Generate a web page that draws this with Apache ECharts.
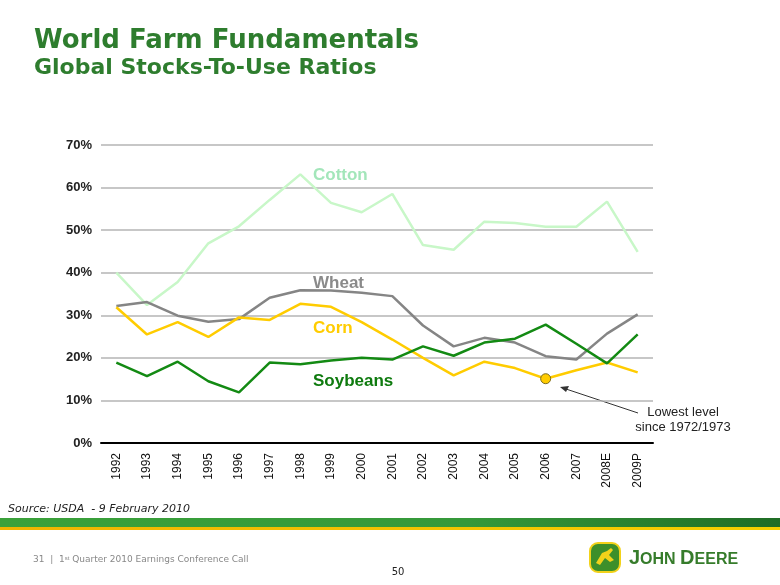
<!DOCTYPE html>
<html>
<head>
<meta charset="utf-8">
<script src="https://cdn.jsdelivr.net/npm/echarts@6/dist/echarts.min.js"></script>
<style>html,body{margin:0;padding:0;background:#fff;}#c{width:780px;height:585px;}</style>
</head>
<body>
<div id="c"></div>
<script>
const years = ['1992','1993','1994','1995','1996','1997','1998','1999','2000','2001','2002','2003','2004','2005','2006','2007','2008E','2009P'];
const cotton   = [40.0,32.4,37.8,46.9,50.9,57.1,63.1,56.4,54.2,58.5,46.5,45.4,52.0,51.7,50.8,50.8,56.7,44.9];
const wheat    = [32.2,33.1,29.9,28.5,29.1,34.1,35.9,35.8,35.3,34.5,27.6,22.7,24.7,23.6,20.4,19.6,25.7,30.2];
const corn     = [31.9,25.5,28.4,24.9,29.5,28.9,32.7,32.0,28.4,24.3,20.0,15.9,19.1,17.6,15.1,17.1,18.9,16.6];
const soybeans = [18.9,15.7,19.1,14.5,11.9,18.9,18.5,19.4,20.0,19.6,22.7,20.5,23.6,24.5,27.8,23.3,18.7,25.5];
const lowestIndex = 14; // 2006 corn

const chart = echarts.init(document.getElementById('c'));
const cornData = corn.map((v, i) => i === lowestIndex ? {
  value: v, symbol: 'circle', symbolSize: 10,
  itemStyle: { color: '#ffcc00', borderColor: '#7a6a20', borderWidth: 1 }
} : v);

function line(name, data, color) {
  return { name, type: 'line', data, symbol: 'none', showSymbol: true,
    lineStyle: { color, width: 2.5 }, itemStyle: { color }, animation: false, z: 3 };
}

const title = '#2e7d2e';
const lbl = (text, y, color) => ({ type: 'text', x: 313, y, style: { text, font: 'bold 17px "Liberation Sans", Arial', fill: color, align: 'left', verticalAlign: 'middle' } });
chart.setOption({
  animation: false,
  grid: { left: 101, right: 127, top: 145, bottom: 142 },
  xAxis: {
    type: 'category', data: years, boundaryGap: true,
    axisLine: { lineStyle: { color: '#000', width: 2 } },
    axisTick: { show: false },
    axisLabel: { rotate: 90, margin: 10, fontFamily: 'Liberation Sans, Arial', fontSize: 12, color: '#111', interval: 0 }
  },
  yAxis: {
    type: 'value', min: 0, max: 70, interval: 10,
    axisLine: { show: false }, axisTick: { show: false },
    axisLabel: { formatter: '{value}%', fontFamily: 'Liberation Sans, Arial', fontSize: 13, fontWeight: 'bold', color: '#222', margin: 9 },
    splitLine: { lineStyle: { color: '#b5b5b5', width: 1.5 } }
  },
  series: [
    line('Cotton', cotton, '#c8f7c8'),
    line('Wheat', wheat, '#858585'),
    line('Corn', cornData, '#ffcc00'),
    line('Soybeans', soybeans, '#138a13')
  ],
  graphic: [
    { type: 'text', x: 34, y: 41, style: { text: 'World Farm Fundamentals', font: 'bold 26px "DejaVu Sans", Verdana', fill: title, verticalAlign: 'middle' } },
    { type: 'text', x: 34, y: 68, style: { text: 'Global Stocks-To-Use Ratios', font: 'bold 22px "DejaVu Sans", Verdana', fill: title, verticalAlign: 'middle' } },
    lbl('Cotton', 175, '#a3e6ba'),
    lbl('Wheat', 283, '#8a8a8a'),
    lbl('Corn', 328, '#ffcc00'),
    lbl('Soybeans', 381, '#0e7a0e'),
    { type: 'line', shape: { x1: 638, y1: 413, x2: 566, y2: 389 }, style: { stroke: '#333', lineWidth: 1 } },
    { type: 'polygon', shape: { points: [[560, 387], [569, 386], [566, 392]] }, style: { fill: '#333' } },
    { type: 'text', x: 683, y: 412, style: { text: 'Lowest level', font: '13px "Liberation Sans", Arial', fill: '#222', align: 'center', verticalAlign: 'middle' } },
    { type: 'text', x: 683, y: 427, style: { text: 'since 1972/1973', font: '13px "Liberation Sans", Arial', fill: '#222', align: 'center', verticalAlign: 'middle' } },
    { type: 'text', x: 8, y: 509, style: { text: 'Source: USDA  - 9 February 2010', font: 'italic 11px "DejaVu Sans", Verdana', fill: '#222', verticalAlign: 'middle' } },
    { type: 'rect', shape: { x: 0, y: 518, width: 780, height: 9 }, style: { fill: new echarts.graphic.LinearGradient(0, 0, 1, 0, [{ offset: 0, color: '#3aa13a' }, { offset: 0.6, color: '#35993a' }, { offset: 1, color: '#1f6d25' }]) } },
    { type: 'rect', shape: { x: 0, y: 527, width: 780, height: 3 }, style: { fill: new echarts.graphic.LinearGradient(0, 0, 1, 0, [{ offset: 0, color: '#f0b400' }, { offset: 1, color: '#f5d000' }]) } },
    { type: 'text', x: 33, y: 560, style: { text: '31  |  1{sup|st} Quarter 2010 Earnings Conference Call', font: '9px "DejaVu Sans", Verdana', fill: '#888', verticalAlign: 'middle',
      rich: { sup: { fontSize: 6, verticalAlign: 'top', fill: '#888', padding: [0, 0, 4, 0] } } } },
    { type: 'text', x: 398, y: 572, style: { text: '50', font: '10px "DejaVu Sans", Verdana', fill: '#222', align: 'center', verticalAlign: 'middle' } },
    { type: 'rect', shape: { x: 590, y: 543, width: 30, height: 29, r: 8 }, style: { fill: '#3d8f2a', stroke: '#f2d21a', lineWidth: 2 } },
    { type: 'polygon', shape: { points: [[596, 563], [602, 553], [607, 551], [611, 548], [613, 550], [609, 555], [614, 560], [610, 562], [605, 558], [600, 565]] }, style: { fill: '#f2d21a' } },
    { type: 'text', x: 629, y: 558, style: { text: '{b|J}{s|OHN }{b|D}{s|EERE}', verticalAlign: 'middle', fill: '#367c2b',
      rich: { b: { fontSize: 20, fontWeight: 'bold', fontFamily: 'Liberation Sans', fill: '#367c2b', verticalAlign: 'bottom' },
              s: { fontSize: 16, fontWeight: 'bold', fontFamily: 'Liberation Sans', fill: '#367c2b', verticalAlign: 'bottom' } } } }
  ]
});
</script>
</body>
</html>
